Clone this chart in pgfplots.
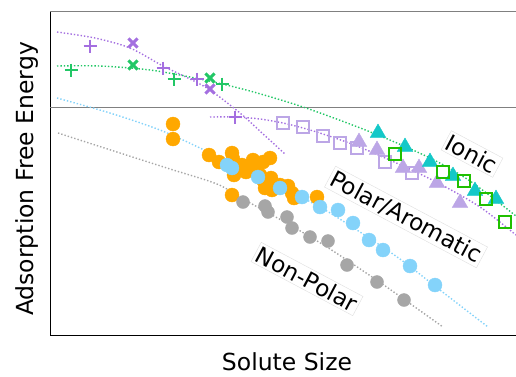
\documentclass[border=0pt]{standalone}
\usepackage{fontspec}
\setmainfont{DejaVu Sans}
\usepackage{pgfplots}
\pgfplotsset{compat=1.18}
\definecolor{cpurple}{HTML}{A46FE0}
\definecolor{cgreen}{HTML}{22C766}
\definecolor{clav}{HTML}{BCA6E6}
\definecolor{cteal}{HTML}{14C8C8}
\definecolor{cbgreen}{HTML}{20C000}
\definecolor{corange}{HTML}{FFA800}
\definecolor{cblue}{HTML}{84D3FA}
\definecolor{cgray}{HTML}{A6A6A6}
\begin{document}
\begin{tikzpicture}
\begin{axis}[scale only axis, width=466pt, height=324pt,
  xmin=50, xmax=516, ymin=11, ymax=335, y dir=reverse,
  axis lines=none, clip=false]
% frame
\draw[black, line width=1pt] (axis cs:50,11) -- (axis cs:50,335) -- (axis cs:516,335);
\draw[gray, line width=1pt] (axis cs:50,11) -- (axis cs:516,11);
\draw[gray, line width=1pt] (axis cs:50,107) -- (axis cs:516,107);
% fitted dotted lines
\addplot[cpurple, line width=1.4pt, dash pattern=on 1.4pt off 2pt, smooth] coordinates {
(57,32) (95,38) (130,48) (163,66) (190,79) (210,90) (240,113) (262,133) (285,154)};
\addplot[cgreen, line width=1.4pt, dash pattern=on 1.4pt off 2pt, smooth] coordinates {
(57,66) (100,66) (150,70) (200,79) (250,91) (306,108) (373,133) (430,158) (470,181) (516,216)};
\addplot[cpurple, line width=1.4pt, dash pattern=on 1.4pt off 2pt, smooth] coordinates {
(210,117) (236,117) (260,119) (283,123) (303,128) (323,134) (357,146) (403,166) (440,184) (480,207) (516,235)};
\addplot[cblue, line width=1.4pt, dash pattern=on 1.4pt off 2pt, smooth] coordinates {
(57,98) (110,113) (160,130) (200,148) (240,168) (280,187) (320,207) (360,232) (400,259) (440,290) (488,327)};
\addplot[cgray, line width=1.4pt, dash pattern=on 1.4pt off 2pt, smooth] coordinates {
(58,133) (120,153) (170,169) (217,184) (243,199) (290,225) (330,249) (378,281) (405,300) (443,327)};
% ionic markers
\addplot[only marks, cpurple, mark=+, mark size=6.5pt, mark options={solid, line width=2.9pt}] coordinates {
(90,46) (163,68) (197,79) (235,117)};
\addplot[only marks, cpurple, mark=x, mark size=6.5pt, mark options={solid, line width=2.9pt}] coordinates {
(133,43) (210,89)};
\addplot[only marks, cgreen, mark=+, mark size=6.5pt, mark options={solid, line width=2.9pt}] coordinates {
(71,70) (174,79) (222,84)};
\addplot[only marks, cgreen, mark=x, mark size=6.5pt, mark options={solid, line width=2.9pt}] coordinates {
(133,65) (210,78)};
\addplot[only marks, clav, mark=square, mark size=6pt, mark options={solid, line width=2.4pt}] coordinates {
(283,123) (303,127) (323,136) (340,143) (357,148) (385,162) (412,173)};
\addplot[only marks, clav, mark=triangle*, mark size=9pt] coordinates {
(359,142) (377,150) (403,168) (419,168) (437,183) (460,203)};
\addplot[only marks, cteal, mark=triangle*, mark size=9pt] coordinates {
(378,133) (405,147) (430,162) (453,176) (475,191) (496,199)};
\addplot[only marks, cbgreen, mark=square, mark size=6pt, mark options={solid, line width=2.2pt}] coordinates {
(395,154) (443,172) (464,181) (486,199) (505,222)};
% polar / aromatic
\addplot[only marks, corange, mark=*, mark size=7pt] coordinates {
(173,124) (173,139) (209,155) (219,162) (232,153) (233,159) (236,168) (234,175)
(242,165) (246,172) (253,160) (252,168) (263,162) (270,158) (263,180) (271,178)
(265,188) (272,190) (280,185) (288,186) (292,193) (294,198) (317,197) (232,195) (260,175)};
\addplot[only marks, cblue, mark=*, mark size=7pt] coordinates {
(227,165) (232,168) (258,177) (280,188) (302,197) (320,207) (338,210) (353,223)
(369,240) (383,250) (410,266) (435,285)};
% non-polar
\addplot[only marks, cgray, mark=*, mark size=6.5pt] coordinates {
(243,202) (265,206) (268,212) (287,217) (292,228) (310,237) (328,241) (347,265) (377,282) (404,300)};
% labels
\node[draw=gray!25, fill=white, rotate=-28, inner sep=2pt, font=\fontsize{23}{25}\selectfont] at (axis cs:472,154) {Ionic};
\node[draw=gray!25, fill=white, rotate=-28, inner sep=2pt, font=\fontsize{23}{25}\selectfont] at (axis cs:406,217) {Polar/Aromatic};
\node[draw=gray!25, fill=white, rotate=-28, inner sep=2pt, font=\fontsize{23}{25}\selectfont] at (axis cs:307,279) {Non-Polar};
\node[font=\fontsize{23.5}{26}\selectfont] at (axis cs:287,362) {Solute Size};
\node[rotate=90, font=\fontsize{23.5}{26}\selectfont] at (axis cs:27,179) {Adsorption Free Energy};
\coordinate (bl) at (axis cs:50,335);
\end{axis}
\pgfresetboundingbox
\path (bl) ++(-50pt,-41pt) rectangle ++(516pt,376pt);
\end{tikzpicture}
\end{document}
